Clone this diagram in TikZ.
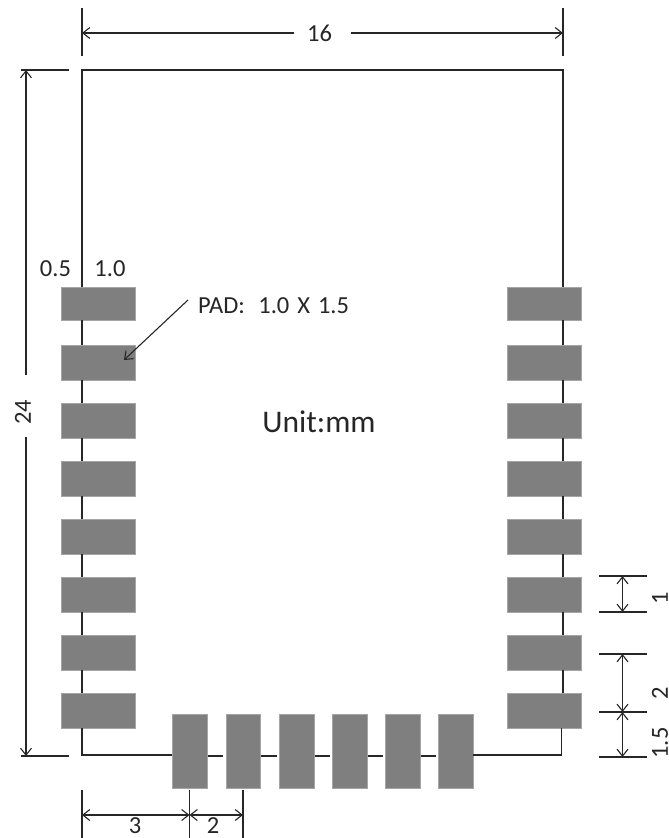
\documentclass[tikz,border=0pt]{standalone}
\usepackage{fontspec}
\setmainfont{Carlito}
\usetikzlibrary{arrows.meta}
\definecolor{padgray}{HTML}{7F7F7F}
\definecolor{inkc}{HTML}{262626}
\tikzset{
  padbox/.style={fill=padgray,draw=padgray!70!white,line width=0.5pt,inner sep=0pt,outer sep=0pt,minimum width=#1},
  padbox/.default=73.5pt,
  edgeline/.style={line width=1.2pt,draw=inkc},
  tick/.style={line width=1.2pt,draw=inkc},
  dimline/.style={line width=1.1pt,draw=inkc,{Straight Barb[length=7pt,width=11pt]}-{Straight Barb[length=7pt,width=11pt]}},
  halfdim/.style={line width=1.1pt,draw=inkc,-{Straight Barb[length=7pt,width=11pt]}},
  dimtext/.style={font=\fontsize{24.5}{26}\selectfont,text=inkc,inner sep=0pt},
  padtext/.style={font=\fontsize{24.5}{26}\selectfont,text=inkc,inner sep=0pt},
  bigtext/.style={font=\fontsize{31.5}{34}\selectfont,text=inkc,inner sep=0pt}
}
\begin{document}
\begin{tikzpicture}[x=1pt,y=-1pt]
\path[use as bounding box,clip] (0,0) rectangle (669,838);
\fill[white] (0,0) rectangle (669,838);
% body corners
\coordinate (TL) at (82,70);
\coordinate (TR) at (563,70);
\coordinate (BL) at (82,755);
\coordinate (BR) at (561.7,755);
% left and right pads
\foreach \n/\y/\h in {1/303.5/33,2/362.5/35,3/420.5/35,4/478.5/35,5/536.5/35,6/594.5/35,7/652.5/35,8/710.5/35}{
  \node[padbox,minimum height=\h pt] (L\n) at (98,\y) {};
  \node[padbox,minimum height=\h pt] (R\n) at (544,\y) {};
}
% bottom pads
\foreach \n/\x/\w in {1/189.5/35.5,2/243/34.5,3/296.5/34.5,4/349.5/34.5,5/402.5/34.5,6/455.5/34.5}{
  \node[padbox=\w pt,minimum height=73.5pt] (B\n) at (\x,751) {};
}
% outline
\draw[edgeline] (L1.north -| TL) -- (TL) -- (TR) -- (R1.north -| TR);
\foreach \a/\b in {1/2,2/3,3/4,4/5,5/6,6/7,7/8}{
  \draw[edgeline] (L\a.south -| TL) -- (L\b.north -| TL);
  \draw[edgeline] (R\a.south -| TR) -- (R\b.north -| TR);
}
\draw[edgeline] (L8.south -| TL) -- (BL) -- (B1.west |- BL);
\draw[edgeline] (R8.south -| BR) -- (BR) -- (B6.east |- BR);
\coordinate (BM) at (82,756);
\foreach \a/\b in {1/2,2/3,3/4,4/5,5/6}{
  \draw[edgeline] ([xshift=1pt]B\a.east |- BM) -- ([xshift=-2.5pt]B\b.west |- BM);
}
% top dimension
\coordinate (T1a) at (82,8); \coordinate (T1b) at (82,56);
\coordinate (T2a) at (563,8); \coordinate (T2b) at (563,56);
\draw[tick] (T1a) -- (T1b);
\draw[tick] (T2a) -- (T2b);
\node[dimtext] (w16) at (319.5,33) {16};
\coordinate (wa) at (294,33); \coordinate (wb) at (351,33);
\draw[halfdim] (wa) -- (T1a |- wa);
\draw[halfdim] (wb) -- (T2a |- wb);
% left dimension
\coordinate (H1a) at (21,70); \coordinate (H1b) at (69,70);
\coordinate (H2a) at (21,756); \coordinate (H2b) at (69,756);
\draw[tick] (H1a) -- (H1b);
\draw[tick] (H2a) -- (H2b);
\node[dimtext,rotate=90] (h24) at (23,412.5) {24};
\coordinate (ha) at (26,375); \coordinate (hb) at (26,437);
\draw[halfdim] (ha) -- (ha |- H1a);
\draw[halfdim] (hb) -- (hb |- H2a);
% pad labels
\node[dimtext] (l05) at (55.5,269) {0.5};
\node[dimtext] (l10) at (110,269) {1.0};
\node[padtext,anchor=west] (padlab) at (198,306) {PAD:\hspace{0.55em}1.0\hspace{0.1em} X\hspace{0.1em} 1.5};
\coordinate (padfrom) at (188,300);
\coordinate (padto) at (124,360);
\draw[halfdim] (padfrom) -- (padto);
\node[bigtext] (unit) at (319,422) {Unit:mm};
% right dimensions
\foreach \n/\y in {a/576,b/612,c/654,d/712,e/757}{
  \coordinate (r\n1) at (599,\y);
  \coordinate (r\n2) at (647,\y);
  \draw[tick] (r\n1) -- (r\n2);
  \coordinate (m\n) at (622.5,\y);
}
\draw[dimline] (ma) -- (mb);
\draw[dimline] (mc) -- (md);
\draw[dimline] (md) -- (me);
\node[dimtext,rotate=90] (r1) at (660,598) {1};
\node[dimtext,rotate=90] (r2) at (660,693) {2};
\node[dimtext,rotate=90] (r15) at (660,743) {1.5};
% bottom dimensions
\coordinate (b1a) at (82,790); \coordinate (b1b) at (82,838);
\coordinate (b2a) at (189.5,790); \coordinate (b2b) at (189.5,838);
\coordinate (b3a) at (243,790); \coordinate (b3b) at (243,838);
\draw[tick] (b1a) -- (b1b);
\draw[tick] (b2a) -- (b2b);
\draw[tick] (b3a) -- (b3b);
\coordinate (d1) at (82,815); \coordinate (d2) at (189.5,815); \coordinate (d3) at (243,815);
\draw[dimline] (d1) -- (d2);
\draw[dimline] (d2) -- (d3);
\node[dimtext] (b3) at (135,826) {3};
\node[dimtext] (b2) at (213,826) {2};
\end{tikzpicture}
\end{document}
